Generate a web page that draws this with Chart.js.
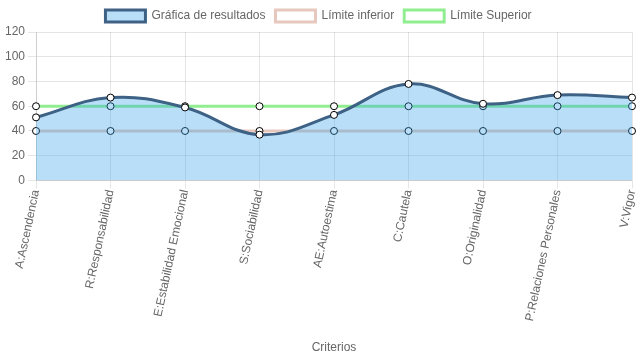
<!DOCTYPE html>
<html>
<head>
<meta charset="utf-8">
<script src="https://cdn.jsdelivr.net/npm/chart.js@4"></script>
<style>
    html, body { margin: 0; padding: 0; background: #fff; }
    #wrap { width: 637px; height: 359px; }
</style>
</head>
<body>
<div id="wrap"><canvas id="criteriosChart"></canvas></div>
<script>
const labels = ['A:Ascendencia', 'R:Responsabilidad', 'E:Estabilidad Emocional', 'S:Sociabilidad',
    'AE:Autoestima', 'C:Cautela', 'O:Originalidad', 'P:Relaciones Personales', 'V:Vigor'];
const resultados = [51, 67, 59, 37, 53, 78, 62, 69, 67];
const limiteInferior = [40, 40, 40, 40, 40, 40, 40, 40, 40];
const limiteSuperior = [60, 60, 60, 60, 60, 60, 60, 60, 60];
const yTicks = [0, 20, 40, 60, 80, 100, 120];

Chart.defaults.font.family = "'Liberation Sans', Arial, sans-serif";
Chart.defaults.font.size = 12;
Chart.defaults.color = '#666';

// point style shared by all series
const pointStyle = {
    pointRadius: 3.5,
    pointBackgroundColor: '#fff',
    pointBorderColor: '#000',
    pointBorderWidth: 1,
};

const chart = new Chart(document.getElementById('criteriosChart'), {
    type: 'line',
    data: {
        labels: labels,
        datasets: [
            {
                label: 'Gráfica de resultados',
                data: resultados,
                borderColor: '#3e6285',
                backgroundColor: 'rgba(54, 162, 235, 0.35)',
                borderWidth: 3,
                fill: true,
                tension: 0.4,
                ...pointStyle,
            },
            {
                label: 'Límite inferior',
                data: limiteInferior,
                borderColor: '#e6c8be',
                backgroundColor: '#fff',
                borderWidth: 3,
                fill: false,
                ...pointStyle,
            },
            {
                label: 'Límite Superior',
                data: limiteSuperior,
                borderColor: '#90ee90',
                backgroundColor: '#fff',
                borderWidth: 3,
                fill: false,
                ...pointStyle,
            },
        ],
    },
    options: {
        responsive: true,
        maintainAspectRatio: false,
        animation: false,
        plugins: {
            legend: {
                position: 'top',
                labels: { boxWidth: 40, color: '#666' },
            },
        },
        scales: {
            x: {
                title: { display: true, text: 'Criterios', color: '#666' },
                ticks: { maxRotation: 90, minRotation: 78, autoSkip: false, padding: 0 },
                grid: { color: 'rgba(0,0,0,0.1)' },
                afterFit: (scale) => {
                    scale.height += 14;
                    scale.paddingRight = 3;
                },
            },
            y: {
                min: 0,
                max: 120,
                afterBuildTicks: (axis) => { axis.ticks = yTicks.map(v => ({ value: v })); },
                grid: { color: 'rgba(0,0,0,0.1)' },
                afterFit: (scale) => { scale.width += 2; },
            },
        },
    },
});
</script>
</body>
</html>
